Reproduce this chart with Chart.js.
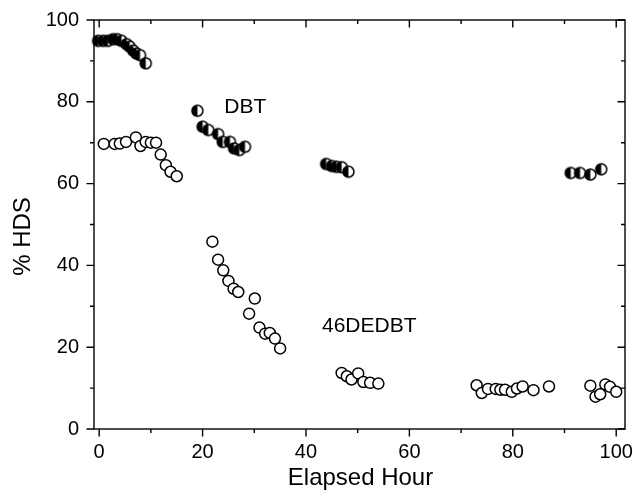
<!DOCTYPE html>
<html lang="en">
<head>
<meta charset="UTF-8">
<title>% HDS vs Elapsed Hour</title>
<script src="https://cdn.jsdelivr.net/npm/chart.js"></script>
<style>
  html, body { margin: 0; padding: 0; background: #fff; }
</style>
</head>
<body>
<canvas id="hdsChart" width="633" height="499"></canvas>
<script>
// DBT (half-filled markers)
const dbtHours = [-0.2, 0.8, 1.7, 2.7, 3.5, 4.3, 5.3, 5.9, 6.6, 7.2, 7.9, 9.0,
                  19.0, 20.0, 21.1, 23.0, 23.9, 25.3, 26.1, 27.1, 28.2,
                  43.9, 45.0, 45.9, 46.9, 48.2,
                  91.2, 93.0, 95.0, 97.1];
const dbtHds = [94.9, 94.9, 94.9, 95.3, 95.3, 94.9, 94.1, 93.5, 92.5, 91.8, 91.4, 89.4,
                77.8, 73.9, 73.1, 72.1, 70.2, 70.2, 68.6, 68.2, 69.0,
                64.8, 64.3, 64.1, 64.0, 62.9,
                62.6, 62.6, 62.2, 63.5];

// 46DEDBT (open markers)
const dedbtHours = [0.9, 3.0, 4.0, 5.2, 7.1, 8.0, 9.0, 10.0, 11.0, 11.9, 12.9, 13.8, 15.0,
                    21.9, 23.0, 24.0, 25.0, 26.0, 26.9, 30.1, 29.0, 31.0, 32.1, 33.0, 34.0, 35.0,
                    46.9, 47.9, 48.8, 50.1, 51.1, 52.4, 54.0,
                    73.0, 74.0, 75.2, 76.7, 77.6, 78.5, 79.8, 80.8, 81.9, 84.0, 87.0,
                    95.0, 96.0, 96.9, 97.9, 98.8, 100.0];
const dedbtHds = [69.7, 69.7, 69.8, 70.2, 71.3, 69.2, 70.2, 70.0, 70.0, 67.1, 64.5, 62.9, 61.8,
                  45.8, 41.4, 38.8, 36.2, 34.3, 33.5, 31.9, 28.2, 24.8, 23.3, 23.5, 22.1, 19.7,
                  13.7, 12.9, 12.1, 13.6, 11.5, 11.3, 11.1,
                  10.7, 8.8, 9.8, 9.8, 9.6, 9.6, 9.1, 9.9, 10.4, 9.5, 10.4,
                  10.6, 7.9, 8.5, 10.9, 10.3, 9.1];

const xTickVals = [0, 20, 40, 60, 80, 100];
const xMinorVals = [10, 30, 50, 70, 90];
const yTickVals = [0, 20, 40, 60, 80, 100];
const yMinorVals = [10, 30, 50, 70, 90];

const xTitle = 'Elapsed Hour';
const yTitle = '% HDS';
const seriesNotes = [
    { text: 'DBT', x: 24.2, y: 78.8 },
    { text: '46DEDBT', x: 43.1, y: 25.1 }
];

const FONT = '"Liberation Sans", Arial, sans-serif';

// left half black, right half white
function halfMarker(r, bw) {
    const size = Math.ceil(2 * r + bw + 2);
    const c = document.createElement('canvas');
    c.width = size; c.height = size;
    const g = c.getContext('2d');
    const m = size / 2;
    g.fillStyle = '#fff';
    g.beginPath(); g.arc(m, m, r, 0, Math.PI * 2); g.fill();
    g.fillStyle = '#000';
    g.beginPath(); g.arc(m, m, r, Math.PI / 2, Math.PI * 1.5); g.closePath(); g.fill();
    g.lineWidth = bw; g.strokeStyle = '#000';
    g.beginPath(); g.arc(m, m, r, 0, Math.PI * 2); g.stroke();
    return c;
}

// no extra room for overhanging tick labels, the frame sits where the padding says
function noOverhang(s) {
    s.paddingLeft = 0; s.paddingRight = 0;
    s.paddingTop = 0; s.paddingBottom = 0;
}

const frameTicks = {
    id: 'frameTicks',
    beforeDatasetsDraw(chart) {
        const { ctx, chartArea: a, scales: { x, y } } = chart;
        ctx.save();
        ctx.strokeStyle = '#000';
        ctx.lineWidth = 1.4;
        ctx.strokeRect(a.left, a.top, a.right - a.left, a.bottom - a.top);
        ctx.beginPath();
        const xt = (vals, len) => vals.forEach(v => {
            const px = x.getPixelForValue(v);
            ctx.moveTo(px, a.bottom); ctx.lineTo(px, a.bottom + len);
            ctx.moveTo(px, a.top); ctx.lineTo(px, a.top + len);
        });
        const yt = (vals, len) => vals.forEach(v => {
            const py = y.getPixelForValue(v);
            ctx.moveTo(a.left, py); ctx.lineTo(a.left - len, py);
            ctx.moveTo(a.right, py); ctx.lineTo(a.right - len, py);
        });
        xt(xTickVals, 7.5); xt(xMinorVals, 4);
        yt(yTickVals, 7.5); yt(yMinorVals, 4);
        ctx.stroke();

        // axis titles (the y one sits a bit below the middle, as in the source figure)
        ctx.fillStyle = '#000';
        ctx.font = '24px ' + FONT;
        ctx.textAlign = 'center';
        ctx.textBaseline = 'middle';
        ctx.fillText(xTitle, (a.left + a.right) / 2 + 1, chart.height - 21);
        ctx.translate(23, (a.top + a.bottom) / 2 + 12);
        ctx.rotate(-Math.PI / 2);
        ctx.fillText(yTitle, 0, 0);
        ctx.restore();
    },
    afterDatasetsDraw(chart) {
        const { ctx, scales: { x, y } } = chart;
        ctx.save();
        ctx.fillStyle = '#000';
        ctx.font = '21px ' + FONT;
        ctx.textAlign = 'left';
        ctx.textBaseline = 'middle';
        seriesNotes.forEach(n => ctx.fillText(n.text, x.getPixelForValue(n.x), y.getPixelForValue(n.y)));
        ctx.restore();
    }
};

const ctx = document.getElementById('hdsChart').getContext('2d');
const hdsChart = new Chart(ctx, {
    type: 'scatter',
    data: {
        datasets: [
            {
                label: 'DBT',
                data: dbtHours.map((h, i) => ({ x: h, y: dbtHds[i] })),
                pointStyle: halfMarker(5.5, 1.5),
                pointRadius: 6,
                clip: false
            },
            {
                label: '46DEDBT',
                data: dedbtHours.map((h, i) => ({ x: h, y: dedbtHds[i] })),
                pointStyle: 'circle',
                pointRadius: 5.5,
                pointBorderWidth: 1.5,
                pointBackgroundColor: '#fff',
                pointBorderColor: '#000',
                clip: false
            }
        ]
    },
    options: {
        responsive: false,
        animation: false,
        devicePixelRatio: 1,
        layout: { padding: { top: 20, right: 8, left: 0, bottom: 0 } },
        plugins: {
            legend: { display: false },
            tooltip: { enabled: false }
        },
        scales: {
            x: {
                type: 'linear',
                min: -1,
                max: 101.7,
                afterBuildTicks: s => { s.ticks = xTickVals.map(v => ({ value: v })); },
                afterFit: s => { s.height = 70; noOverhang(s); },
                grid: { display: false, drawTicks: false },
                border: { display: false },
                ticks: { padding: 11, color: '#000', font: { family: FONT, size: 20 } }
            },
            y: {
                type: 'linear',
                min: 0,
                max: 100,
                afterBuildTicks: s => { s.ticks = yTickVals.map(v => ({ value: v })); },
                afterFit: s => { s.width = 94; noOverhang(s); },
                grid: { display: false, drawTicks: false },
                border: { display: false },
                ticks: { padding: 15, color: '#000', font: { family: FONT, size: 20 } }
            }
        }
    },
    plugins: [frameTicks]
});
</script>
</body>
</html>
